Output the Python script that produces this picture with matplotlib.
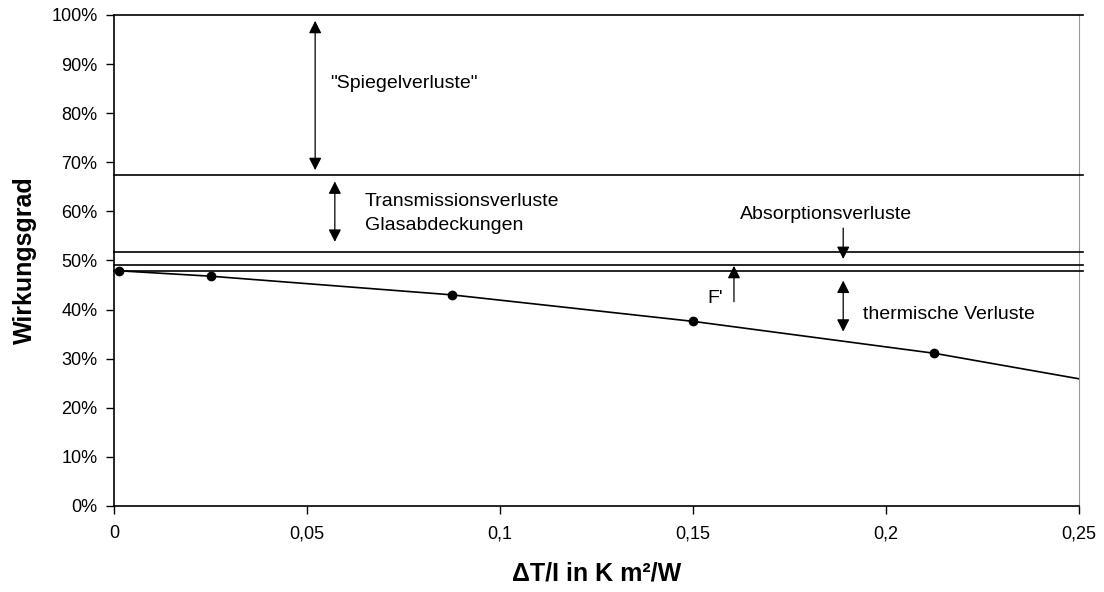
import numpy as np
import matplotlib
matplotlib.use("Agg")
import matplotlib.pyplot as plt

plt.rcParams['font.family'] = ['Liberation Sans', 'DejaVu Sans']

# loss levels (horizontal lines), in %
levels = [100.0, 67.4, 51.7, 49.1, 47.9]

# efficiency curve
curve_x = [0.0, 0.0013, 0.025, 0.0875, 0.15, 0.2125, 0.25]
curve_y = [48.0, 47.9, 46.8, 43.0, 37.6, 31.1, 25.9]
meas_x = [0.0013, 0.025, 0.0875, 0.15, 0.2125]
meas_y = [47.9, 46.8, 43.0, 37.6, 31.1]

xticks = [0, 0.05, 0.1, 0.15, 0.2, 0.25]
xtick_labels = ['0', '0,05', '0,1', '0,15', '0,2', '0,25']
yticks = list(range(0, 101, 10))
ytick_labels = ['%d%%' % v for v in yticks]

fig = plt.figure(figsize=(11.04, 5.92), dpi=100, facecolor='w')
ax = fig.add_axes([0.1033, 0.1453, 0.8741, 0.8294])

for lv in levels:
    ax.plot([0, 0.251], [lv, lv], 'k-', lw=1.2, clip_on=False, zorder=3)

ax.plot(curve_x, curve_y, 'k-', lw=1.2, zorder=3)
ax.plot(meas_x, meas_y, 'ko', ms=6, zorder=4)

# arrows
def arrow(x, y0, y1, style):
    ax.annotate('', xy=(x, y1), xytext=(x, y0),
                arrowprops=dict(arrowstyle=style + ',head_length=0.75,head_width=0.38',
                                shrinkA=0, shrinkB=0, lw=0.9, color='black',
                                mutation_scale=10))

arrow(0.0521, 68.4, 98.8, '<|-|>')
arrow(0.0572, 53.8, 66.1, '<|-|>')
arrow(0.1889, 56.6, 50.3, '-|>')
arrow(0.1606, 41.6, 48.9, '-|>')
arrow(0.1889, 35.5, 45.9, '<|-|>')

fs = 14
ax.text(0.056, 86.1, '"Spiegelverluste"', fontsize=fs, va='center', ha='left')
ax.text(0.065, 62.0, 'Transmissionsverluste', fontsize=fs, va='center', ha='left')
ax.text(0.065, 57.2, 'Glasabdeckungen', fontsize=fs, va='center', ha='left')
ax.text(0.1845, 59.3, 'Absorptionsverluste', fontsize=fs, va='center', ha='center')
ax.text(0.1557, 42.3, "F'", fontsize=fs, va='center', ha='center')
ax.text(0.1939, 38.9, 'thermische Verluste', fontsize=fs, va='center', ha='left')

ax.set_xlim(0, 0.25)
ax.set_ylim(0, 100)
ax.set_xticks(xticks)
ax.set_xticklabels(xtick_labels)
ax.set_yticks(yticks)
ax.set_yticklabels(ytick_labels)
ax.tick_params(direction='out', length=6, width=1, labelsize=13, colors='black')
ax.tick_params(axis='x', pad=8)
ax.tick_params(axis='y', pad=6)

ax.spines['top'].set_visible(False)
ax.spines['right'].set_color('#999999')
ax.spines['left'].set_linewidth(1.2)
ax.spines['bottom'].set_linewidth(1.2)

ax.set_xlabel('ΔT/I in K m²/W', fontsize=18, fontweight='bold', labelpad=14)
ax.set_ylabel('Wirkungsgrad', fontsize=18, fontweight='bold', labelpad=10)

plt.savefig('out.png', dpi=100)
